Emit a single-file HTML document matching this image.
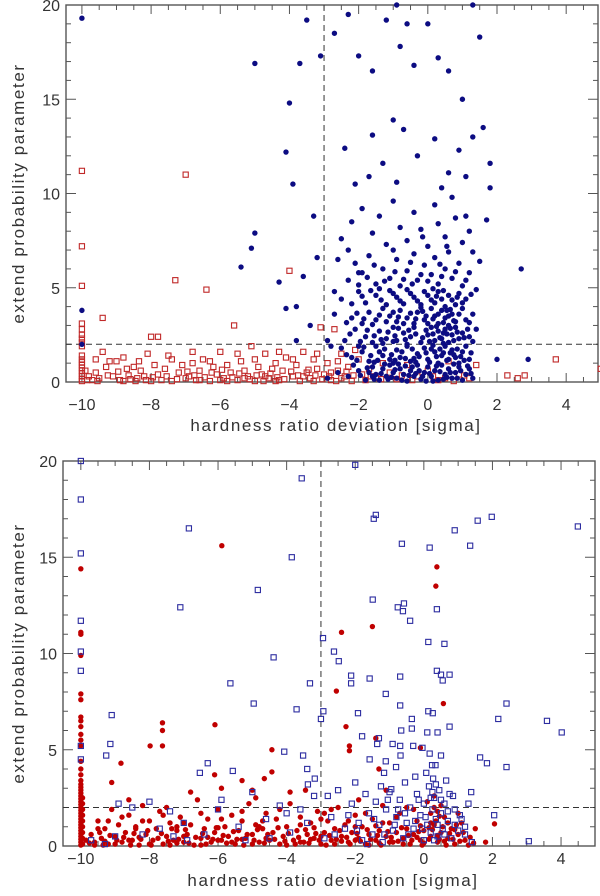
<!DOCTYPE html>
<html><head><meta charset="utf-8"><style>
html,body{margin:0;padding:0;background:#fff;}
svg{display:block;font-family:"Liberation Sans",sans-serif;}
.tl{font-size:16px;fill:#333;}
.tt{font-size:17px;fill:#333;letter-spacing:1.6px;}
</style></head><body>
<svg id="chart" width="600" height="896" viewBox="0 0 600 896" xmlns="http://www.w3.org/2000/svg">
<g id="top"></g>
<g id="bot"></g>
</svg>
<script>
const xTicks = [-10,-8,-6,-4,-2,0,2,4];
const yTicks = [0,5,10,15,20];
const xTitle = "hardness ratio deviation  [sigma]";
const yTitle = "extend probability parameter";
const cutX = -3, cutY = 2;

// top panel: blue dots
const topBlue = [
[-10,19.3],[-10,3.8],[-10,2.0],[-5,16.9],[-3.7,16.9],[-3.5,19.2],[-4.1,12.2],[-4,14.8],[-3.9,10.5],[-5.4,6.1],[-5,7.9],[-5.1,7.1],[-4.3,5.3],[-3.6,5.6],[-3.3,8.8],[-3.2,6.6],[-3.8,4],[-4.1,3.9],[-3.4,3],[-3.8,2.2],[-2,5.8],[2,1.2],[2.7,6],[2.9,1.2],[1.7,8.6],[1.8,10.3],[1.8,11.6],
[-2.7,18.5],[-2.3,19.5],[-2.0,17.3],[-1.6,16.5],[-1.2,19.2],[-0.9,20],[-0.6,19],[-0.4,16.8],[0,19],[0.3,17.2],[0.6,16.5],[1,15],[1.3,20],[1.5,18.3],[1.6,13.5],[-0.8,17.8],[-1,13.9],[-3.1,17.3],
[-2.3,0.3],[-2,0.6],[-1.8,0.1],[-1.6,0.8],[-1.5,0.4],[-1.4,0.1],[-1.3,0.7],[-1.2,0.3],[-1.1,0.9],[-1.0,0.5],[-0.9,0.2],[-0.8,0.7],[-0.7,0.4],[-0.6,0.05],[-0.5,0.6],[-0.4,0.3],[-0.3,0.9],[-0.2,0.15],[-0.1,0.5],[0,0.8],[0.1,0.3],[0.2,0.6],[0.3,0.1],[0.4,0.9],[0.5,0.4],[0.6,0.7],[0.7,0.2],[0.8,0.5],[0.9,0.8],[1.0,0.1],[1.1,0.4],[1.2,0.7],[1.3,0.2],[-1.7,0.5],[-0.85,0.95],[-0.35,0.45],[0.15,0.05],[0.55,0.25],[-1.15,0.15],[0.35,0.55],[-0.65,0.85],[-2.6,0.5],[-2.9,0.2],
[-2.5,1.8],[-2.2,1.3],[-1.9,1.6],[-1.7,1.1],[-1.5,1.9],[-1.3,1.4],[-1.1,1.2],[-0.9,1.7],[-0.8,1.3],[-0.6,1.9],[-0.5,1.1],[-0.3,1.5],[-0.1,1.8],[0.0,1.2],[0.2,1.6],[0.3,1.0],[0.4,1.4],[0.5,1.9],[0.6,1.2],[0.7,1.7],[0.8,1.3],[0.9,1.0],[1.0,1.6],[1.1,1.9],[1.2,1.2],[-1.0,1.0],[-0.4,1.25],[0.15,1.95],[0.45,1.55],[-2.0,1.9],[-2.8,1.9],[-1.4,1.6],[0.75,1.45],
[-2.4,2.2],[-2.1,2.8],[-1.8,2.4],[-1.6,2.1],[-1.4,2.7],[-1.2,2.3],[-1.0,2.9],[-0.9,2.2],[-0.7,2.6],[-0.5,2.4],[-0.4,2.9],[-0.2,2.1],[0.0,2.5],[0.1,2.9],[0.2,2.2],[0.3,2.7],[0.4,2.3],[0.5,2.8],[0.6,2.1],[0.7,2.5],[0.8,2.9],[0.9,2.3],[1.0,2.6],[1.2,2.4],[1.4,2.8],[-0.6,2.0],[0.45,2.05],[-1.3,2.05],[-2.9,2.2],[-0.05,2.75],
[-2.2,3.4],[-1.9,3.1],[-1.7,3.7],[-1.5,3.3],[-1.3,3.9],[-1.1,3.5],[-0.9,3.2],[-0.8,3.8],[-0.6,3.4],[-0.4,3.1],[-0.3,3.7],[-0.1,3.3],[0.1,3.9],[0.2,3.5],[0.3,3.1],[0.4,3.8],[0.5,3.4],[0.6,3.0],[0.7,3.6],[0.8,3.2],[1.0,3.9],[1.1,3.3],[1.3,3.6],[-2.7,3.6],[0.65,3.85],[-0.2,3.95],
[-2.5,4.4],[-2.0,4.8],[-1.8,4.2],[-1.5,4.6],[-1.2,4.1],[-1.0,4.7],[-0.8,4.3],[-0.6,4.9],[-0.4,4.5],[-0.2,4.1],[0.0,4.6],[0.2,4.2],[0.3,4.8],[0.4,4.4],[0.5,4.0],[0.6,4.6],[0.8,4.1],[0.9,4.7],[1.1,4.4],[1.4,4.9],[-1.4,4.95],[0.15,4.95],
[-2.3,5.4],[-2.1,6.3],[-1.9,5.8],[-1.7,6.7],[-1.5,5.2],[-1.3,6.0],[-1.1,5.5],[-0.9,6.5],[-0.8,5.1],[-0.6,5.9],[-0.4,6.8],[-0.3,5.4],[-0.1,6.2],[0.1,5.7],[0.2,6.6],[0.3,5.2],[0.5,6.0],[0.6,6.9],[0.7,5.5],[0.9,6.3],[1.0,5.1],[1.2,5.8],[1.5,6.4],[-2.6,6.5],
[-2.5,7.6],[-2.2,8.5],[-1.9,9.2],[-1.6,7.9],[-1.4,8.8],[-1.2,7.3],[-1.0,9.6],[-0.8,8.2],[-0.6,7.5],[-0.4,9.0],[-0.2,8.1],[0.0,7.2],[0.2,9.4],[0.3,8.4],[0.5,7.7],[0.7,9.8],[0.8,8.7],[1.0,7.4],[1.2,8.0],[-2.1,10.5],[-1.7,10.9],[0.4,10.3],[0.6,11.1],[-0.9,10.6],[1.1,10.9],[-1.3,11.6],[-0.3,12.0],[0.9,12.3],[-2.4,12.4],[-1.6,13.1],[0.2,12.9],[-0.7,13.4],[1.3,13.0]
];
// top panel: extra blue dots of the dense core
const topBlueCore = [
[-1.95,0.35],[-1.75,0.75],[-1.55,0.15],[-1.35,0.45],[-1.25,0.95],[-1.05,0.25],[-0.95,0.65],[-0.75,0.1],[-0.55,0.35],[-0.45,0.8],[-0.25,0.6],[-0.15,0.3],[0.05,0.45],[0.25,0.85],[0.45,0.15],[0.65,0.5],[0.85,0.2],[0.95,0.6],[1.15,0.85],[1.25,0.45],[-2.15,0.9],[-0.05,0.05],[0.75,0.95],[-1.6,0.3],
[-2.35,1.45],[-2.05,1.15],[-1.85,1.85],[-1.65,1.4],[-1.45,1.15],[-1.25,1.75],[-1.05,1.45],[-0.95,1.15],[-0.75,1.6],[-0.65,1.25],[-0.45,1.75],[-0.35,1.05],[-0.25,1.35],[-0.05,1.55],[0.05,1.05],[0.25,1.35],[0.35,1.75],[0.55,1.15],[0.65,1.55],[0.85,1.75],[0.95,1.35],[1.05,1.15],[1.25,1.55],[-1.55,1.05],[0.1,1.75],
[-2.25,2.55],[-1.95,2.15],[-1.75,2.75],[-1.55,2.45],[-1.35,2.25],[-1.15,2.65],[-0.95,2.45],[-0.85,2.85],[-0.65,2.25],[-0.55,2.75],[-0.35,2.55],[-0.15,2.35],[0.05,2.15],[0.15,2.55],[0.25,2.95],[0.35,2.35],[0.55,2.55],[0.65,2.85],[0.75,2.2],[0.85,2.65],[1.05,2.35],[1.15,2.8],[1.3,2.15],[-1.0,2.15],[0.45,2.6],
[-2.35,3.15],[-2.05,3.65],[-1.85,3.35],[-1.6,3.05],[-1.4,3.55],[-1.2,3.2],[-1.0,3.7],[-0.85,3.45],[-0.7,3.1],[-0.5,3.65],[-0.35,3.35],[-0.15,3.75],[0.0,3.1],[0.15,3.35],[0.3,3.6],[0.45,3.15],[0.6,3.5],[0.75,3.25],[0.9,3.6],[1.2,3.15],[-0.05,3.5],[0.55,3.8],
[-2.2,4.15],[-1.9,4.55],[-1.65,4.85],[-1.35,4.35],[-1.1,4.85],[-0.9,4.5],[-0.7,4.15],[-0.5,4.7],[-0.3,4.3],[-0.1,4.8],[0.1,4.35],[0.25,4.55],[0.45,4.85],[0.7,4.35],[0.85,4.5],[1.0,4.2],[1.25,4.65],[-2.7,4.8],
[-2.0,5.15],[-1.75,5.55],[-1.25,5.35],[-0.95,5.85],[-0.7,5.45],[-0.45,5.2],[-0.2,5.7],[0.0,5.35],[0.4,5.6],[0.8,5.85],[1.1,5.4],[-1.55,6.2],[-0.5,6.35],[0.35,6.25],[1.3,6.9],[-2.3,7.0],[-1.0,7.0],[0.55,7.2],[-0.15,7.7],[1.1,8.8]
];
// top panel: red squares
const topRed = [
[-10,0.05],[-10,0.15],[-10,0.3],[-10,0.45],[-10,0.6],[-10,0.75],[-10,0.9],[-10,1.05],[-10,1.2],[-10,1.4],[-10,1.9],[-10,2.1],[-10,2.3],[-10,2.5],[-10,2.8],[-10,3.1],[-10,5.1],[-10,7.2],[-10,11.2],
[-9.9,0.6],[-9.8,0.3],[-9.7,0.1],[-9.6,0.5],[-9.4,3.4],[-9.4,1.6],[-9.3,0.8],[-9.2,1.1],[-9.1,0.3],[-9.0,1.1],[-8.9,0.1],[-8.8,0.05],[-8.7,0.7],[-8.6,0.15],[-8.5,0.8],[-8.3,0.6],[-8.2,0.3],[-8.1,1.5],[-8.0,2.4],[-7.9,0.9],[-7.8,2.4],[-7.7,0.1],[-7.6,0.7],[-7.5,1.4],[-7.4,0.05],[-7.3,5.4],[-7.2,0.5],[-7.1,0.9],[-7.0,11.0],[-6.9,0.3],[-6.8,1.0],[-6.7,0.1],[-6.6,0.6],[-6.5,1.2],[-6.4,4.9],[-6.3,0.05],[-6.2,0.8],[-6.1,0.4],[-6.0,1.6],[-5.9,0.2],[-5.8,0.9],[-5.7,0.5],[-5.6,3.0],[-5.5,0.1],[-5.4,1.1],[-5.3,0.6],[-5.2,0.3],[-5.1,1.9],[-5.0,0.05],[-4.9,0.8],[-4.8,0.4],[-4.7,1.5],[-4.6,0.2],[-4.5,0.7],[-4.4,1.0],[-4.3,0.1],[-4.2,0.6],[-4.1,1.3],[-4.0,5.9],[-3.9,0.3],[-3.8,0.9],[-3.7,0.05],[-3.6,1.6],[-3.5,0.5],[-3.4,0.2],[-3.3,1.2],[-3.2,0.7],[-3.1,2.9],[-3.0,0.4],[-2.9,1.0],[-2.8,0.1],[-2.7,2.8],[-2.6,0.6],[-2.5,1.5],[-2.4,0.3],[-2.3,0.8],[-2.2,0.05],[-2.0,1.2],[-1.9,0.4],[-1.7,0.7],[-1.5,0.2],[-1.3,1.0],[-1.1,0.5],[-0.9,0.15],[-0.6,0.9],[-0.3,0.3],[0.0,0.6],[0.3,0.1],[0.6,1.1],[0.9,0.4],[1.2,0.2],[1.4,0.9],[2.3,0.35],[2.6,0.2],[2.8,0.35],[3.7,1.2],[5.0,0.7],
[-9.5,0.2],[-8.4,0.2],[-7.0,0.2],[-6.0,0.1],[-5.3,0.2],[-4.4,0.05],[-3.3,0.05],[-2.8,0.5],[-6.6,0.1],[-8.0,0.05],[-5.8,0.05],[-4.7,0.3],[-7.8,0.4],[-3.6,0.3],[-2.5,0.2],[-1.8,0.1],
[-9.85,0.1],[-9.55,0.05],[-9.25,0.35],[-8.95,0.55],[-8.65,0.35],[-8.45,0.05],[-8.15,0.1],[-7.95,0.25],[-7.55,0.3],[-7.25,0.15],[-6.95,0.55],[-6.75,0.35],[-6.45,0.25],[-6.25,0.5],[-5.95,0.65],[-5.65,0.25],[-5.45,0.45],[-5.15,0.15],[-4.95,0.35],[-4.75,0.05],[-4.55,0.45],[-4.35,0.25],[-4.15,0.15],[-3.95,0.55],[-3.75,0.35],[-3.45,0.65],[-3.25,0.35],[-3.05,0.15],[-2.85,0.3],[-2.65,0.05],[-2.35,0.55],[-2.15,0.35],[-1.65,0.3],[-1.35,0.15],[-0.75,0.35],[-0.45,0.1],[0.15,0.3],[0.5,0.2],[0.75,0.05],[1.05,0.35],
[-8.35,1.1],[-7.4,1.2],[-6.3,1.1],[-5.5,1.5],[-4.3,1.6],[-3.9,1.2],[-3.2,1.5],[-2.6,1.1],[-2.1,1.7],[-5.0,1.2],[-6.8,1.6],[-9.6,1.2],[-8.8,1.3]
];
// bottom panel: red dots
const botRed = [
[-10,0.05],[-10,0.2],[-10,0.35],[-10,0.5],[-10,0.65],[-10,0.8],[-10,0.95],[-10,1.1],[-10,1.25],[-10,1.4],[-10,1.55],[-10,1.7],[-10,1.85],[-10,2.0],[-10,2.15],[-10,2.3],[-10,2.45],[-10,2.6],[-10,2.75],[-10,2.9],[-10,3.05],[-10,3.2],[-10,3.4],[-10,3.7],[-10,4.0],[-10,4.4],[-10,5.2],[-10,5.5],[-10,5.8],[-10,6.2],[-10,6.5],[-10,6.7],[-10,7.6],[-10,7.9],[-10,9.9],[-10,11.0],[-10,11.1],[-10,14.4],
[-9.95,0.1],[-9.95,0.4],[-9.95,0.7],[-9.95,1.0],[-9.95,1.3],[-9.95,1.6],[-9.95,1.9],[-9.95,2.2],[-9.95,2.5],
[-5.89,15.6],[-2.4,11.1],[-1.5,11.4],[0.35,13.5],[0.38,14.5],[-7.62,6.4],[-7.62,6.0],[-7.62,5.2],[-7.98,5.2],[-6.09,6.3],[-8.83,4.3],[-9.1,3.3],[-4.43,5.0],[-4.43,3.85],[-4.65,3.5],[-6.1,3.7],[-5.3,3.4],[-5.0,2.9],[-5.9,3.0],[-3.9,2.8],[-3.45,2.9],[-2.55,8.05],[-2.27,6.2],[-2.17,5.2],[-2.17,4.95],[-1.4,5.6],[0.57,7.4],[-0.1,5.1],[-1.31,4.0],[-1.1,2.9],[2.06,1.15],[1.5,0.9],[1.8,0.2],
[-9.7,0.6],[-9.6,0.2],[-9.5,1.3],[-9.4,0.4],[-9.3,0.9],[-9.2,0.1],[-9.1,1.9],[-9.0,0.5],[-8.9,1.1],[-8.8,0.2],[-8.7,0.7],[-8.6,1.6],[-8.5,0.3],[-8.4,1.0],[-8.3,0.05],[-8.2,2.1],[-8.1,0.6],[-8.0,1.3],[-7.9,0.3],[-7.8,0.9],[-7.7,1.8],[-7.6,0.1],[-7.5,0.5],[-7.4,1.2],[-7.3,0.3],[-7.2,0.8],[-7.1,1.5],[-7.0,0.2],[-6.9,0.6],[-6.8,1.1],[-6.7,0.05],[-6.6,2.4],[-6.5,0.4],[-6.4,0.9],[-6.3,1.4],[-6.2,0.2],[-6.1,0.7],[-6.0,1.9],[-5.9,0.3],[-5.8,1.0],[-5.7,0.5],[-5.6,1.6],[-5.5,0.1],[-5.4,0.8],[-5.3,1.3],[-5.2,0.4],[-5.1,2.2],[-5.0,0.6],[-4.9,1.1],[-4.8,0.2],[-4.7,0.9],[-4.6,1.7],[-4.5,0.3],[-4.4,0.7],[-4.3,1.4],[-4.2,0.1],[-4.1,0.5],[-4.0,1.0],[-3.9,2.2],[-3.8,0.3],[-3.7,0.8],[-3.6,1.5],[-3.5,0.2],[-3.4,0.6],[-3.3,1.2],[-3.2,0.4],[-3.1,1.8],[-3.0,0.1],[-2.9,0.7],[-2.8,1.3],[-2.7,0.3],[-2.6,0.9],[-2.5,2.0],[-2.4,0.5],[-2.3,1.1],[-2.2,0.2],[-2.1,0.7],[-2.0,1.6],[-1.9,0.4],[-1.8,1.0],[-1.7,0.1],[-1.6,0.6],[-1.5,1.4],[-1.4,0.3],[-1.3,0.8],[-1.2,2.1],[-1.1,0.5],[-1.0,1.2],[-0.9,0.2],[-0.8,0.7],[-0.7,1.7],[-0.6,0.4],[-0.5,0.9],[-0.4,0.1],[-0.3,0.6],[-0.2,1.3],[-0.1,0.3],[0.0,0.8],[0.1,2.3],[0.2,0.5],[0.3,1.1],[0.4,0.2],[0.5,0.7],[0.6,1.5],[0.7,0.4],[0.8,0.9],[0.9,0.1],[1.0,0.6],[1.1,1.2],[1.2,0.3],[1.3,0.05],
[-9.6,0.05],[-9.0,0.1],[-8.6,0.3],[-8.0,0.1],[-7.4,0.05],[-7.0,0.5],[-6.5,0.05],[-6.0,0.3],[-5.6,0.2],[-5.0,0.1],[-4.6,0.4],[-4.0,0.05],[-3.6,0.2],[-3.0,0.5],[-2.6,0.1],[-2.0,0.3],[-1.6,0.05],[-1.0,0.2],[-0.6,0.1],[0.0,0.15],[0.4,0.55],[0.2,1.7],[0.3,2.6],[-0.5,2.0],[-1.9,2.4],[-2.9,1.7],[-4.9,2.5],[-6.8,2.8],[-7.5,2.0],[-8.6,2.4],[0.6,0.25],[-0.2,0.45],[-1.3,0.15],[-2.4,0.25],[-3.3,0.35],[-5.3,0.35],[-6.3,0.45],[-7.2,0.15],[-8.3,0.45],[-9.3,0.25]
];
// bottom panel: extra low red dots (dense band)
const botRedBand = [
[-9.85,0.3],[-9.75,0.15],[-9.45,0.7],[-9.35,0.05],[-9.15,0.55],[-8.95,0.3],[-8.75,0.45],[-8.55,0.05],[-8.45,0.65],[-8.25,0.35],[-8.05,0.8],[-7.95,0.05],[-7.75,0.4],[-7.65,0.65],[-7.45,0.25],[-7.35,0.9],[-7.15,0.35],[-6.95,0.85],[-6.85,0.15],[-6.65,0.45],[-6.45,0.65],[-6.35,0.1],[-6.15,0.35],[-6.05,0.95],[-5.85,0.55],[-5.75,0.15],[-5.55,0.75],[-5.45,0.35],[-5.25,0.05],[-5.15,0.6],[-4.95,0.3],[-4.85,0.85],[-4.65,0.15],[-4.55,0.6],[-4.35,0.35],[-4.25,0.95],[-4.05,0.25],[-3.95,0.65],[-3.75,0.1],[-3.65,0.45],[-3.45,0.85],[-3.35,0.15],[-3.15,0.65],[-3.05,0.3],[-2.85,0.05],[-2.75,0.55],[-2.55,0.35],[-2.45,0.8],[-2.25,0.45],[-2.15,0.1],[-1.95,0.65],[-1.85,0.25],[-1.65,0.85],[-1.55,0.35],[-1.35,0.55],[-1.25,0.05],[-1.05,0.75],[-0.95,0.45],[-0.75,0.25],[-0.65,0.95],[-0.45,0.55],[-0.35,0.3],[-0.15,0.75],[-0.05,0.05],[0.15,0.35],[0.25,0.85],[0.35,1.3],[0.45,0.35],[0.55,1.0],[0.65,0.05],[0.75,0.65],[0.85,0.35],[0.95,1.1],[1.05,0.25],[1.15,0.7],[1.35,0.45],[1.45,0.15],
[-8.8,1.5],[-8.2,1.3],[-7.6,1.6],[-7.0,1.2],[-6.5,1.7],[-5.9,1.4],[-5.3,1.8],[-4.7,1.3],[-4.2,1.9],[-3.6,1.1],[-3.0,1.4],[-2.7,1.9],[-2.2,1.3],[-1.7,1.7],[-1.2,1.2],[-0.8,1.5],[-0.3,1.9],[0.2,1.2],[0.4,1.8],[0.5,2.1],[0.7,1.2],[1.0,1.7],[0.3,2.0],[0.15,0.95],[0.45,1.55],[-0.1,1.05],[-9.5,0.9],[-9.2,1.3],[-8.4,0.9],[-7.2,1.0],[-6.0,0.95],[-4.8,1.0],[-3.2,0.95],[-2.0,1.0],[-1.4,1.05],[0.9,0.85]
];
// bottom panel: blue squares
const botBlue = [
[-10,20],[-10,18],[-10,15.2],[-10,11.7],[-10,10.1],[-10,9.1],[-10,5.2],[-10,4.5],
[-6.85,16.5],[-7.1,12.4],[-3.56,19.1],[-3.85,15.0],[-2.0,19.8],[-1.46,17.0],[-1.4,17.2],[-0.64,15.7],[0.17,15.5],[0.9,16.4],[1.57,16.9],[1.98,17.1],[1.35,15.6],[4.49,16.6],[-4.84,13.3],[-1.49,12.8],[-0.76,12.4],[-0.61,12.2],[-0.58,12.6],[0.38,12.3],[-2.94,10.8],[-2.62,10.1],[-0.4,11.7],
[-4.38,9.8],[-5.64,8.45],[-4.96,7.4],[-9.1,6.8],[-9.14,5.3],[-9.26,4.7],[-6.3,4.3],[-6.53,3.8],[-5.57,3.9],[-4.07,4.9],[-3.71,7.1],[-3.32,8.45],[-3.52,4.7],[-3.4,4.0],[-3.18,3.5],[-3.38,3.2],[-3.0,6.6],[-2.93,7.0],[-2.48,9.6],[-2.12,8.85],[-2.12,8.45],[-1.58,8.7],[-0.69,8.8],[-1.11,7.9],[-0.69,7.3],[-1.92,6.9],[-0.35,6.6],[0.13,7.0],[0.26,6.9],[0.38,9.1],[0.5,8.9],[0.55,8.6],[0.75,8.9],[0.13,10.6],[0.6,10.5],[0.75,6.2],[-0.35,6.1],[-0.66,6.0],[-1.8,5.7],[-1.31,5.6],[-1.36,5.3],[-0.91,5.3],[-0.69,5.2],[-0.31,5.2],[-0.04,5.1],[0.1,5.9],[0.4,5.9],[0.17,4.8],[0.5,4.7],[-0.68,4.7],[-1.58,4.5],[-1.11,4.4],[-0.81,4.1],[-1.16,3.8],[0.24,4.2],[0.34,4.2],[0.07,3.8],[0.27,3.5],[1.64,4.6],[1.84,4.3],[2.41,4.1],[2.17,6.6],[2.41,7.4],[3.59,6.5],[4.02,5.9],[3.06,0.25],[2.05,1.6],[1.38,2.8],
[-9.7,0.3],[-9.3,0.1],[-8.9,2.2],[-8.5,2.0],[-8.0,2.3],[-7.7,0.9],[-7.4,1.8],[-7.0,1.2],[-6.4,0.6],[-5.9,2.4],[-5.4,1.0],[-5.0,2.8],[-4.6,1.4],[-4.2,2.1],[-3.9,0.7],[-3.6,1.9],[-3.2,2.6],[-2.9,0.4],[-2.7,1.5],[-2.5,2.9],[-2.3,0.9],[-2.1,2.2],[-1.9,1.2],[-1.8,0.3],[-1.7,2.7],[-1.6,1.7],[-1.5,0.6],[-1.4,2.3],[-1.3,1.1],[-1.2,0.2],[-1.1,1.9],[-1.0,2.8],[-0.9,0.8],[-0.8,1.5],[-0.7,2.4],[-0.6,0.4],[-0.5,1.2],[-0.4,2.0],[-0.3,0.9],[-0.2,2.7],[-0.1,1.6],[0.0,0.3],[0.0,2.2],[0.1,1.1],[0.15,3.1],[0.2,0.7],[0.25,1.9],[0.3,2.5],[0.35,1.4],[0.4,0.5],[0.45,2.9],[0.5,1.7],[0.55,0.9],[0.6,2.2],[0.7,1.3],[0.8,0.4],[0.9,1.9],[1.0,0.8],[1.1,1.4],[1.2,0.6],[1.3,2.2],[1.4,0.2],[-0.55,3.3],[-1.25,3.1],[-2.0,3.3],[0.65,3.4],[-0.25,3.6],[-0.95,2.95],[0.85,2.6],[-2.8,2.6],[-4.5,0.4],[-6.9,0.3],[-8.2,0.6],
[-2.6,0.6],[-2.2,1.6],[-1.95,0.8],[-1.65,0.1],[-1.45,1.4],[-1.15,0.6],[-0.85,1.1],[-0.55,1.7],[-0.45,0.6],[-0.25,1.3],[-0.05,0.9],[0.05,1.5],[0.2,2.5],[0.3,0.3],[0.4,1.1],[0.5,2.4],[0.6,0.6],[0.7,1.8],[0.75,2.7],[0.9,1.1],[1.05,1.6],[1.2,1.0],[0.35,3.2],[0.25,2.8],[-0.15,2.4],[-0.75,1.9],[-1.05,2.4],[-3.4,1.2],[-4.0,1.7],[-5.2,0.3],[-6.0,1.9],[-7.3,0.5],[-9.0,0.5]
];

const NS="http://www.w3.org/2000/svg";
function mk(tag, attrs, parent){const e=document.createElementNS(NS,tag);for(const k in attrs)e.setAttribute(k,attrs[k]);parent.appendChild(e);return e;}

function panel(g, L, R, T, B, xmin, xmax, ymin, ymax, tickY, titleY, name){
  const X = x => L + (x - xmin) / (xmax - xmin) * (R - L);
  const Y = y => B - (y - ymin) / (ymax - ymin) * (B - T);
  const ax = mk('g', {}, g);
  
  
  const fr = mk('rect', {x:L, y:T, width:R-L, height:B-T, fill:'none', stroke:'#555', 'stroke-width':1.4}, ax);
  
  
  for (let v = -10; v <= 5.001; v += 0.5) {
    const px = X(v); if (px < L+1 || px > R-1) continue;
    const major = Math.abs(v - Math.round(v/2)*2) < 1e-6;
    const len = major ? 9 : 5;
    mk('line', {x1:px, x2:px, y1:B, y2:B-len, stroke:'#555', 'stroke-width':1}, ax);
    mk('line', {x1:px, x2:px, y1:T, y2:T+len, stroke:'#555', 'stroke-width':1}, ax);
  }
  for (let v = 0; v <= 20; v += 1) {
    const py = Y(v); if (py < T+1 || py > B-1) continue;
    const len = v % 5 === 0 ? 10 : 5;
    mk('line', {x1:L, x2:L+len, y1:py, y2:py, stroke:'#555', 'stroke-width':1}, ax);
    mk('line', {x1:R, x2:R-len, y1:py, y2:py, stroke:'#555', 'stroke-width':1}, ax);
  }
  xTicks.forEach(v => {
    const t = mk('text', {x:X(v), y:tickY, 'text-anchor':'middle', class:'tl'}, ax);
    t.textContent = v < 0 ? '\u2212' + Math.abs(v) : String(v);
    
    
  });
  yTicks.forEach(v => {
    const t = mk('text', {x:L-6, y:Y(v)+6, 'text-anchor':'end', class:'tl'}, ax);
    t.textContent = String(v);
    
    
  });
  const xt = mk('text', {x:(L+R)/2+4, y:titleY, 'text-anchor':'middle', class:'tt'}, ax);
  xt.textContent = xTitle;
  
  
  const cy = (T+B)/2;
  const yt = mk('text', {x:0, y:0, 'text-anchor':'middle', class:'tt', transform:'translate(24,'+cy+') rotate(-90)'}, ax);
  yt.textContent = yTitle;
  
  
  const vl = mk('line', {x1:X(cutX), x2:X(cutX), y1:T, y2:B, stroke:'#333', 'stroke-width':1, 'stroke-dasharray':'6,4'}, ax);
  
  
  const hl = mk('line', {x1:L, x2:R, y1:Y(cutY), y2:Y(cutY), stroke:'#333', 'stroke-width':1, 'stroke-dasharray':'6,4'}, ax);
  
  
  return {X, Y};
}

function squares(g, data, s, color, name){
  const grp = mk('g', {}, g);
  
  
  data.forEach(d => {
    const r = mk('rect', {x:s.X(d[0])-2.6, y:s.Y(d[1])-2.6, width:5.2, height:5.2, fill:'none', stroke:color, 'stroke-width':1.1}, grp);
    
    
  });
}
function dots(g, data, s, color, name){
  const grp = mk('g', {}, g);
  
  
  data.forEach(d => {
    const c = mk('circle', {cx:s.X(d[0]), cy:s.Y(d[1]), r:2.7, fill:color}, grp);
    
    
  });
}

const gTop = document.getElementById('top');
const sTop = panel(gTop, 66, 598, 5, 382, -10.46, 4.92, 0, 20, 410, 431, 'top');
squares(gTop, topRed, sTop, '#c02828', 'top-red-squares');
dots(gTop, topBlue, sTop, '#0c0c82', 'top-blue-dots');
dots(gTop, topBlueCore, sTop, '#0c0c82', 'top-blue-core-dots');

const gBot = document.getElementById('bot');
const sBot = panel(gBot, 63, 595, 461, 846, -10.52, 4.99, 0, 20, 864, 886, 'bottom');
dots(gBot, botRed, sBot, '#c00000', 'bottom-red-dots');
dots(gBot, botRedBand, sBot, '#c00000', 'bottom-red-band-dots');
squares(gBot, botBlue, sBot, '#2c2ca0', 'bottom-blue-squares');
</script>
</body></html>
